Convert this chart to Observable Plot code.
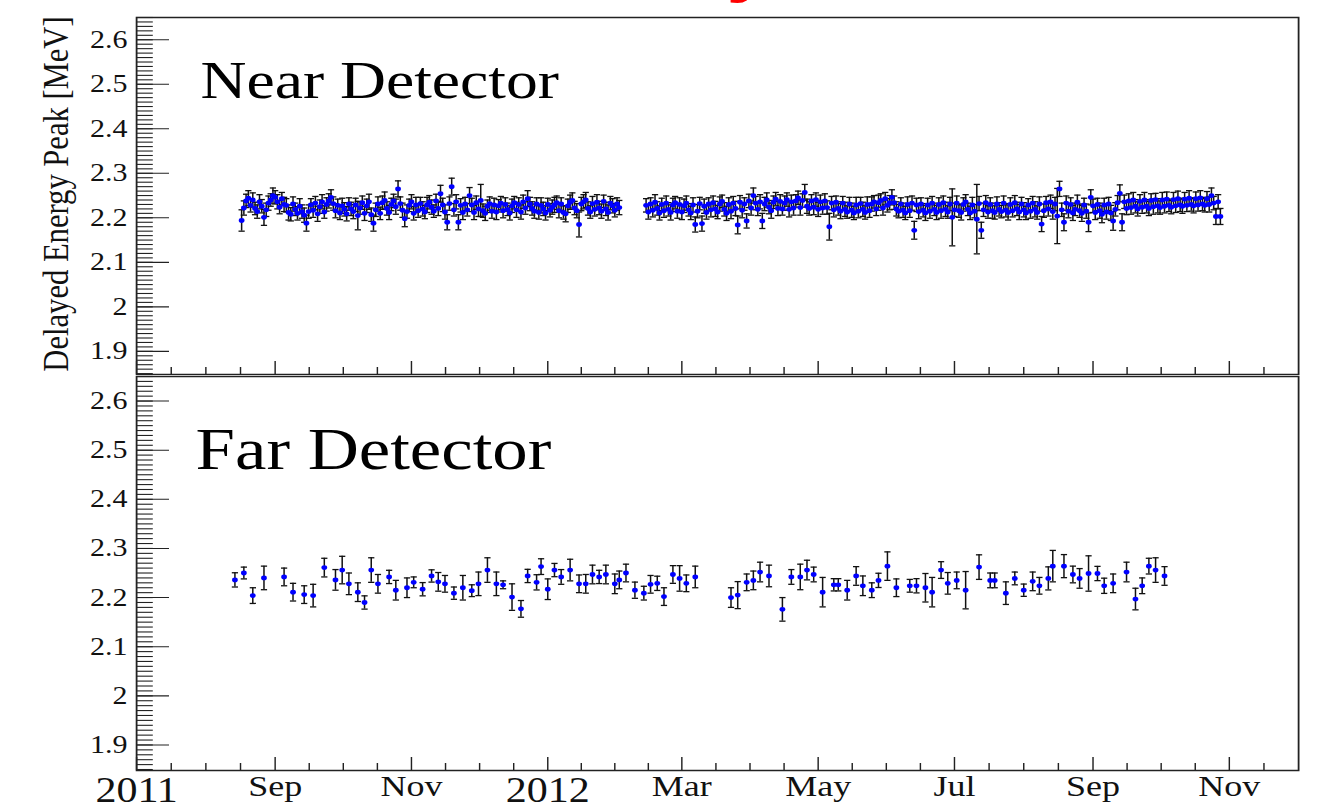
<!DOCTYPE html>
<html>
<head>
<meta charset="utf-8">
<script src="https://cdn.jsdelivr.net/npm/d3@7"></script>
<script src="https://cdn.jsdelivr.net/npm/@observablehq/plot@0.6"></script>
<style>
  html, body { margin: 0; padding: 0; background: #fff; }
  #chart { width: 1337px; height: 810px; overflow: hidden; position: relative; background: #fff; }
  #chart svg { display: block; }
</style>
</head>
<body>
<div id="chart"></div>
<script>
// ---------------- DATA ----------------
// Near detector: daily bins, two running periods
const nearStart1 = "2011-08-17";
const nearVals1 = [
  2.194, 2.222, 2.238, 2.244, 2.228, 2.240, 2.221, 2.214, 2.236, 2.226,
  2.201, 2.218, 2.233, 2.240, 2.250, 2.246, 2.236, 2.224, 2.243, 2.230,
  2.228, 2.212, 2.208, 2.231, 2.219, 2.210, 2.226, 2.214, 2.206, 2.188,
  2.214, 2.229, 2.217, 2.233, 2.209, 2.225, 2.236, 2.213, 2.230, 2.238,
  2.246, 2.232, 2.216, 2.228, 2.211, 2.227, 2.219, 2.209, 2.231, 2.220,
  2.214, 2.229, 2.205, 2.222, 2.234, 2.210, 2.227, 2.236, 2.207, 2.188,
  2.218, 2.231, 2.210, 2.234, 2.239, 2.221, 2.212, 2.230, 2.238, 2.225,
  2.265, 2.232, 2.217, 2.198, 2.214, 2.228, 2.236, 2.210, 2.229, 2.216,
  2.232, 2.220, 2.213, 2.229, 2.235, 2.224, 2.215, 2.238, 2.221, 2.254,
  2.229, 2.213, 2.190, 2.232, 2.270, 2.218, 2.236, 2.190, 2.228, 2.212,
  2.231, 2.218, 2.250, 2.229, 2.212, 2.234, 2.220, 2.239, 2.216, 2.210,
  2.226, 2.232, 2.215, 2.229, 2.213, 2.227, 2.233, 2.216, 2.230, 2.219,
  2.211, 2.227, 2.234, 2.218, 2.230, 2.213, 2.236, 2.222, 2.243, 2.231,
  2.221, 2.215, 2.231, 2.212, 2.228, 2.220, 2.211, 2.230, 2.217, 2.224,
  2.229, 2.234, 2.216, 2.231, 2.212, 2.209, 2.227, 2.235, 2.239, 2.222,
  2.216, 2.185, 2.231, 2.236, 2.240, 2.221, 2.213, 2.232, 2.219, 2.235,
  2.222, 2.215, 2.237, 2.220, 2.212, 2.233, 2.227, 2.217, 2.231, 2.223
];
const nearErrKeV1 = [
  24,16,15,17,15,16,14,15,16,15,
  18,15,16,14,17,15,16,15,14,16,
  15,17,15,16,14,15,17,15,16,18,
  15,14,16,15,17,15,16,14,15,16,
  17,15,16,14,15,17,15,16,14,15,
  16,15,32,14,15,16,15,17,15,18,
  15,16,14,15,19,15,16,14,15,17,
  18,15,16,18,15,14,16,15,17,15,
  14,16,15,17,15,16,14,15,16,19,
  15,16,17,15,19,14,16,17,15,16,
  15,14,18,15,16,15,17,36,15,16,
  14,15,16,15,17,14,15,16,15,14,
  16,15,14,17,15,16,15,14,18,15,
  15,16,14,15,17,15,16,14,15,16,
  17,15,16,14,15,18,15,16,17,15,
  16,28,15,16,17,15,14,16,15,17,
  15,16,14,15,17,15,16,15,14,16
];
const nearStart2 = "2012-02-14";
const nearVals2 = [
  2.228, 2.213, 2.231, 2.217, 2.235, 2.221, 2.211, 2.230, 2.216, 2.233,
  2.219, 2.212, 2.229, 2.234, 2.215, 2.230, 2.213, 2.227, 2.233, 2.218,
  2.211, 2.229, 2.185, 2.215, 2.232, 2.187, 2.226, 2.212, 2.231, 2.218,
  2.234, 2.220, 2.213, 2.231, 2.237, 2.219, 2.210, 2.230, 2.215, 2.233,
  2.221, 2.184, 2.235, 2.217, 2.231, 2.193, 2.238, 2.222, 2.250, 2.233,
  2.219, 2.236, 2.193, 2.231, 2.240, 2.224, 2.216, 2.235, 2.242, 2.221,
  2.237, 2.220, 2.233, 2.241, 2.219, 2.236, 2.222, 2.238, 2.245, 2.223,
  2.239, 2.257, 2.226, 2.221, 2.238, 2.224, 2.241, 2.219, 2.236, 2.222,
  2.238, 2.223, 2.180, 2.233, 2.218, 2.235, 2.221, 2.215, 2.233, 2.219,
  2.213, 2.231, 2.217, 2.211, 2.229, 2.215, 2.232, 2.219, 2.212, 2.230,
  2.216, 2.231, 2.236, 2.220, 2.234, 2.239, 2.222, 2.243, 2.228, 2.234,
  2.246, 2.234, 2.220, 2.215, 2.231, 2.217, 2.211, 2.230, 2.216, 2.233,
  2.172, 2.229, 2.214, 2.231, 2.217, 2.211, 2.229, 2.215, 2.233, 2.219,
  2.212, 2.230, 2.216, 2.234, 2.219, 2.213, 2.231, 2.201, 2.218, 2.233,
  2.216, 2.212, 2.230, 2.236, 2.219, 2.211, 2.229, 2.215, 2.197, 2.232,
  2.172, 2.218, 2.234, 2.213, 2.230, 2.216, 2.212, 2.231, 2.219, 2.214,
  2.233, 2.217, 2.212, 2.230, 2.216, 2.234, 2.220, 2.213, 2.231, 2.218,
  2.211, 2.229, 2.215, 2.233, 2.219, 2.212, 2.231, 2.186, 2.216, 2.234,
  2.220, 2.236, 2.214, 2.231, 2.204, 2.265, 2.218, 2.190, 2.233, 2.215,
  2.230, 2.211, 2.219, 2.235, 2.216, 2.210, 2.229, 2.215, 2.190, 2.246,
  2.227, 2.212, 2.230, 2.216, 2.208, 2.229, 2.213, 2.231, 2.211, 2.193,
  2.219, 2.234, 2.255, 2.190, 2.236, 2.221, 2.238, 2.223, 2.240, 2.226,
  2.220, 2.237, 2.224, 2.240, 2.226, 2.221, 2.239, 2.225, 2.241, 2.227,
  2.223, 2.240, 2.226, 2.242, 2.228, 2.224, 2.241, 2.227, 2.243, 2.229,
  2.226, 2.242, 2.228, 2.244, 2.230, 2.227, 2.243, 2.229, 2.245, 2.231,
  2.228, 2.243, 2.230, 2.250, 2.233, 2.203, 2.236, 2.203
];
const nearErrKeV2 = [
  15,16,14,15,17,15,16,14,15,16,
  15,17,15,14,16,15,17,15,16,14,
  15,16,17,15,14,17,16,15,14,16,
  15,17,15,16,14,15,16,15,17,15,
  16,20,15,17,14,16,15,16,17,15,
  14,16,17,15,16,15,17,14,15,16,
  15,14,16,15,17,15,16,14,15,17,
  15,18,16,15,14,17,15,16,15,14,
  16,15,30,15,16,14,15,17,15,16,
  14,15,16,15,17,15,14,16,15,17,
  15,16,14,15,17,15,16,14,15,16,
  17,15,16,15,14,16,15,17,15,16,
  20,15,16,14,15,17,15,16,15,14,
  16,15,17,15,16,14,15,64,15,16,
  15,17,15,16,14,15,17,15,78,16,
  18,15,16,14,15,17,15,16,15,14,
  16,15,17,15,14,16,15,17,15,16,
  15,14,16,15,17,15,16,17,15,14,
  16,15,17,15,62,17,15,19,16,15,
  15,17,14,16,15,18,15,16,21,17,
  15,16,14,17,19,15,16,15,17,21,
  15,16,19,19,15,14,16,15,17,15,
  16,15,14,17,15,16,15,17,14,16,
  15,17,15,16,14,15,16,15,17,15,
  16,15,14,17,15,16,15,14,16,15,
  15,16,17,17,15,18,16,18
];

// Far detector
const farDates = [
  "2011-08-14","2011-08-18","2011-08-22","2011-08-27","2011-09-05","2011-09-09","2011-09-14","2011-09-18","2011-09-23","2011-09-28",
  "2011-10-01","2011-10-04","2011-10-08","2011-10-11","2011-10-14","2011-10-17","2011-10-22","2011-10-25","2011-10-30","2011-11-02",
  "2011-11-06","2011-11-10","2011-11-13","2011-11-16","2011-11-20","2011-11-24","2011-11-28","2011-12-01","2011-12-05","2011-12-09",
  "2011-12-12","2011-12-16","2011-12-20","2011-12-23","2011-12-27","2011-12-29","2012-01-01","2012-01-04","2012-01-07","2012-01-11",
  "2012-01-15","2012-01-18","2012-01-21","2012-01-24","2012-01-27","2012-01-31","2012-02-02","2012-02-05","2012-02-09","2012-02-13",
  "2012-02-16","2012-02-19","2012-02-22","2012-02-26","2012-02-29","2012-03-03","2012-03-07",
  "2012-03-23","2012-03-26","2012-03-30","2012-04-02","2012-04-05","2012-04-09","2012-04-15","2012-04-19","2012-04-23","2012-04-26",
  "2012-04-29","2012-05-03","2012-05-08","2012-05-10","2012-05-14","2012-05-18","2012-05-21","2012-05-25","2012-05-28","2012-06-01",
  "2012-06-05","2012-06-11","2012-06-14","2012-06-18","2012-06-21","2012-06-25","2012-06-28","2012-07-02","2012-07-06","2012-07-12",
  "2012-07-17","2012-07-19","2012-07-24","2012-07-28","2012-08-01","2012-08-05","2012-08-08","2012-08-12","2012-08-14","2012-08-19",
  "2012-08-23","2012-08-26","2012-08-30","2012-09-03","2012-09-06","2012-09-10","2012-09-16","2012-09-20","2012-09-23","2012-09-26",
  "2012-09-29","2012-10-03"
];
const farVals = [
  2.236, 2.250, 2.204, 2.240, 2.242, 2.211, 2.206, 2.204, 2.261, 2.236,
  2.256, 2.228, 2.211, 2.190, 2.256, 2.228, 2.242, 2.215, 2.220, 2.231,
  2.217, 2.244, 2.232, 2.228, 2.209, 2.220, 2.214, 2.228, 2.256, 2.228,
  2.226, 2.201, 2.177, 2.244, 2.231, 2.263, 2.217, 2.256, 2.242, 2.256,
  2.228, 2.228, 2.247, 2.242, 2.247, 2.228, 2.236, 2.250, 2.215, 2.209,
  2.227, 2.229, 2.202, 2.247, 2.239, 2.229, 2.242,
  2.200, 2.205, 2.231, 2.235, 2.252, 2.244, 2.176, 2.242, 2.242, 2.256,
  2.247, 2.211, 2.226, 2.226, 2.215, 2.244, 2.224, 2.215, 2.235, 2.264,
  2.220, 2.224, 2.224, 2.220, 2.211, 2.256, 2.229, 2.235, 2.215, 2.262,
  2.235, 2.235, 2.209, 2.239, 2.215, 2.233, 2.224, 2.239, 2.264, 2.264,
  2.247, 2.239, 2.249, 2.249, 2.224, 2.229, 2.252, 2.197, 2.224, 2.264,
  2.256, 2.244
];
const farErrKeV = [
  14.5,12,16,24,18,18,18,23,19,21,
  28,22,19,13.5,25,19,13.5,20,20,11,
  13.5,12.5,19,17,12.5,25,12,24,25,24,
  8,27,17,13.5,15.5,16,21,13.5,15,22,
  18,19,19,13.5,19,20,18,18,16.5,14,
  18,14.5,18,18,26,17,22,
  20,27.5,17,19,20,22,24,15,26,20,
  15,30,12.5,12.5,20,19,20,15,14.5,29,
  18,13,14.5,29,30,17,22,17,38,25,
  15,15,23,13,12.5,19,17,23.5,32,23.5,
  17,20,36,14.5,15.5,19,20,22,16,16,
  25,19
];

// Axis ticks and labels
const yMajorTicks = [1.9, 2.0, 2.1, 2.2, 2.3, 2.4, 2.5, 2.6];
const xMajorTicks = ["2011-07-01","2011-09-01","2011-11-01","2012-01-01","2012-03-01","2012-05-01","2012-07-01","2012-09-01","2012-11-01"];
const monthLabels = [
  {date: "2011-09-01", text: "Sep"}, {date: "2011-11-01", text: "Nov"},
  {date: "2012-03-01", text: "Mar"}, {date: "2012-05-01", text: "May"},
  {date: "2012-07-01", text: "Jul"}, {date: "2012-09-01", text: "Sep"},
  {date: "2012-11-01", text: "Nov"}
];
const yearLabels = [{date: "2011-07-01", text: "2011"}, {date: "2012-01-01", text: "2012"}];
const yTitle = "Delayed Energy Peak [MeV]";
const nearLabel = "Near Detector";
const farLabel = "Far Detector";
const slideTitle = "Stability";

// ---------------- BUILD ----------------
(function () {
  const parse = s => new Date(s + "T00:00:00Z");
  function daily(start, vals, errs) {
    const t0 = parse(start);
    return vals.map((v, i) => ({date: d3.utcDay.offset(t0, i), v, e: errs[i] / 1000}));
  }
  const nearData = daily(nearStart1, nearVals1, nearErrKeV1).concat(daily(nearStart2, nearVals2, nearErrKeV2));
  const farData = farDates.map((d, i) => ({date: parse(d), v: farVals[i], e: farErrKeV[i] / 1000}));

  const STRETCH = 1.2;             // the reference is horizontally stretched
  const FULLW = 1337;
  const W = FULLW / STRETCH;
  const ML = 136 / STRETCH, MR = (FULLW - 1298) / STRETCH;
  const xDomain = [parse("2011-07-01"), parse("2012-12-02")];
  const yDomain = [1.848, 2.65];

  const xMaj = xMajorTicks.map(parse);
  const xMin = [];
  for (let i = 0; i < xMaj.length - 1; i++) {
    const a = +xMaj[i], b = +xMaj[i + 1];
    for (let k = 1; k < 4; k++) xMin.push(new Date(a + (b - a) * k / 4));
  }
  xMin.push(new Date(+xMaj[xMaj.length - 1] + (+xMaj[1] - +xMaj[0]) / 4));
  const yMin = d3.range(185, 266).map(d => d / 100);

  const capSymbol = {draw(ctx, size) { const w = Math.sqrt(size / Math.PI); ctx.moveTo(-w, 0); ctx.lineTo(w, 0); }};
  const serif = "'Liberation Serif', 'Times New Roman', serif";
  const fmt = d => String(Math.round(d * 10) / 10);

  function panel({height, marginTop, marginBottom, data, extra}) {
    const svg = Plot.plot({
      width: W, height, marginLeft: ML, marginRight: MR, marginTop, marginBottom,
      x: {type: "utc", domain: xDomain, axis: null},
      y: {domain: yDomain, axis: null},
      style: {fontFamily: serif, color: "black", background: "white", overflow: "hidden"},
      marks: [
        Plot.ruleX(data, {x: "date", y1: d => d.v - d.e, y2: d => d.v + d.e, stroke: "#111", strokeWidth: 1.25}),
        Plot.dot(data, {x: "date", y: d => d.v + d.e, symbol: capSymbol, r: 2.6, stroke: "#111", strokeWidth: 1.3, fill: "none"}),
        Plot.dot(data, {x: "date", y: d => d.v - d.e, symbol: capSymbol, r: 2.6, stroke: "#111", strokeWidth: 1.3, fill: "none"}),
        Plot.dot(data, {x: "date", y: "v", r: 2.4, fill: "#0000ff", stroke: "none"}),
        Plot.axisY({ticks: yMin, tickSize: -14, fill: "none", label: null, stroke: "#222", strokeWidth: 1.1}),
        Plot.axisY({ticks: yMajorTicks, tickSize: -27.5, fill: "none", label: null, stroke: "#222", strokeWidth: 1.1}),
        Plot.axisY({ticks: yMajorTicks, tickSize: 0, tickPadding: 7.5, tickFormat: fmt, fontSize: 25, fontFamily: serif, label: null, fill: "#111"}),
        Plot.axisX({ticks: xMin, anchor: "bottom", tickSize: -7, fill: "none", label: null, stroke: "#222", strokeWidth: 1.2}),
        Plot.axisX({ticks: xMaj, anchor: "bottom", tickSize: -13, fill: "none", label: null, stroke: "#222", strokeWidth: 1.2}),
        Plot.frame({stroke: "#222", strokeWidth: 1.5}),
        ...extra
      ]
    });
    svg.setAttribute("width", FULLW);
    svg.setAttribute("height", height);
    svg.setAttribute("preserveAspectRatio", "none");
    svg.style.width = FULLW + "px";
    svg.style.height = height + "px";
    svg.style.maxWidth = "none";
    svg.style.overflow = "hidden";
    return svg;
  }

  const topSvg = panel({
    height: 375, marginTop: 17, marginBottom: 1, data: nearData,
    extra: [
      Plot.text([yTitle], {frameAnchor: "left", dx: 56 / STRETCH - ML, dy: -2, rotate: -90, textAnchor: "middle", lineAnchor: "middle", fontSize: 30.6, fontFamily: serif, fill: "#111"}),
      Plot.text([nearLabel], {frameAnchor: "top-left", dx: 200 / STRETCH - ML, dy: 97 - 17, textAnchor: "start", lineAnchor: "bottom", fontSize: 53, fontFamily: serif, fill: "#000"}),
      Plot.text([slideTitle], {frameAnchor: "top-left", dx: 770 / STRETCH - ML, dy: -29, textAnchor: "end", lineAnchor: "bottom", fontSize: 66, fontWeight: "bold", fontFamily: "'Liberation Sans', Arial, sans-serif", fill: "#ff0000"})
    ]
  });
  const bottomSvg = panel({
    height: 435, marginTop: 1, marginBottom: 40, data: farData,
    extra: [
      Plot.text([farLabel], {frameAnchor: "top-left", dx: 195 / STRETCH - ML, dy: 468 - 376, textAnchor: "start", lineAnchor: "bottom", fontSize: 59, fontFamily: serif, fill: "#000"}),
      Plot.text(monthLabels, {x: d => parse(d.date), text: "text", frameAnchor: "bottom", dy: 25, lineAnchor: "bottom", fontSize: 30, fontFamily: serif, fill: "#111"}),
      Plot.text(yearLabels, {x: d => parse(d.date), text: "text", frameAnchor: "bottom", dy: 31, lineAnchor: "bottom", fontSize: 35, fontFamily: serif, fill: "#111"})
    ]
  });
  const chart = document.getElementById("chart");
  chart.appendChild(topSvg);
  chart.appendChild(bottomSvg);
})();
</script>
</body>
</html>
